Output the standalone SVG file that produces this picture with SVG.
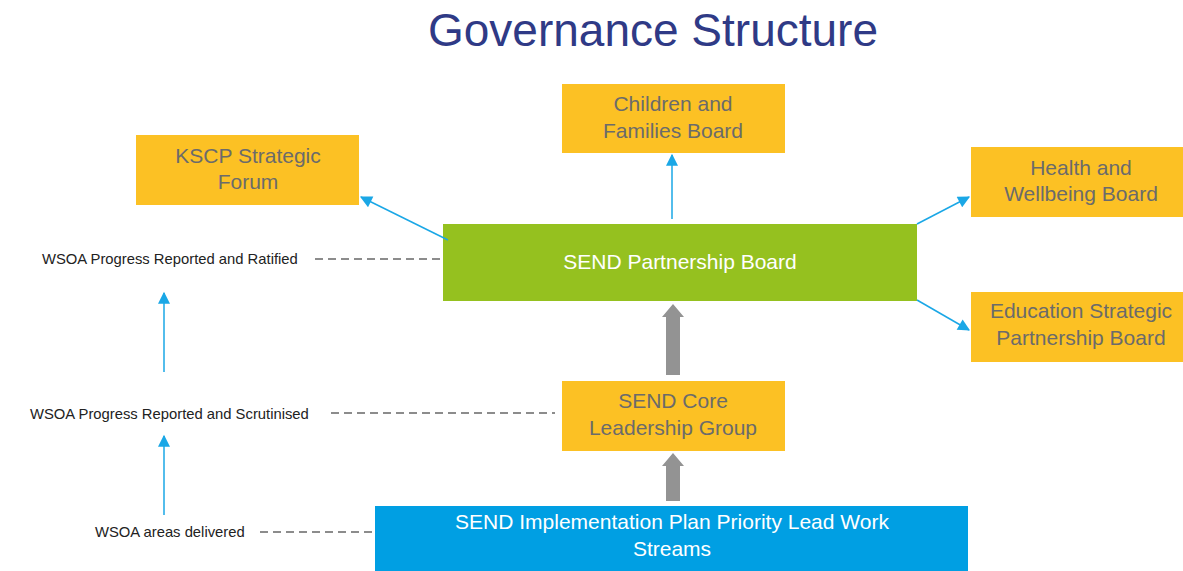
<svg xmlns="http://www.w3.org/2000/svg" width="1183" height="571" viewBox="0 0 1183 571">
<defs>
<style>
.title{font-family:"Liberation Sans",Arial,sans-serif;font-size:46px;fill:#2f3a86;text-anchor:middle}
.yb{fill:#fcc124}
.yt{font-family:"Liberation Sans",Arial,sans-serif;font-size:21px;fill:#6b6b6b;text-anchor:middle}
.wt{font-family:"Liberation Sans",Arial,sans-serif;font-size:21px;fill:#ffffff;text-anchor:middle}
.lbl{font-family:"Liberation Sans",Arial,sans-serif;font-size:14.8px;fill:#222222}
.blue{stroke:#1aa7e6;stroke-width:1.5;fill:none;marker-end:url(#ah)}
.dash{stroke:#8c8c8c;stroke-width:2;stroke-dasharray:8 5;fill:none}
.grey{fill:#939393}
</style>
<marker id="ah" viewBox="0 0 10 10" refX="9" refY="5" markerWidth="15" markerHeight="12" markerUnits="userSpaceOnUse" orient="auto">
<path d="M0,0 L10,5 L0,10 z" fill="#1aa7e6"/>
</marker>
</defs>
<rect width="1183" height="571" fill="#ffffff"/>
<text class="title" x="653" y="46">Governance Structure</text>

<g id="children-board"><rect class="yb" x="562" y="84" width="223" height="69"/><text class="yt" x="673" y="111">Children and</text><text class="yt" x="673" y="138">Families Board</text></g>
<g id="kscp"><rect class="yb" x="136" y="135" width="223" height="70"/><text class="yt" x="248" y="163">KSCP Strategic</text><text class="yt" x="248" y="189">Forum</text></g>
<g id="health"><rect class="yb" x="971" y="147" width="212" height="70"/><text class="yt" x="1081" y="175">Health and</text><text class="yt" x="1081" y="201">Wellbeing Board</text></g>
<g id="education"><rect class="yb" x="971" y="292" width="212" height="70"/><text class="yt" x="1081" y="318">Education Strategic</text><text class="yt" x="1081" y="345">Partnership Board</text></g>
<g id="send-partnership"><rect x="443" y="224" width="474" height="77" fill="#95c11f"/><text class="wt" x="680" y="269">SEND Partnership Board</text></g>
<g id="send-core"><rect class="yb" x="562" y="381" width="223" height="70"/><text class="yt" x="673" y="408">SEND Core</text><text class="yt" x="673" y="435">Leadership Group</text></g>
<g id="send-impl"><rect x="375" y="506" width="593" height="65" fill="#009fe3"/><text class="wt" x="672" y="529">SEND Implementation Plan Priority Lead Work</text><text class="wt" x="672" y="556">Streams</text></g>

<g id="lbl-ratified"><text class="lbl" x="42" y="264">WSOA Progress Reported and Ratified</text></g>
<g id="lbl-scrutinised"><text class="lbl" x="30" y="419">WSOA Progress Reported and Scrutinised</text></g>
<g id="lbl-delivered"><text class="lbl" x="95" y="537">WSOA areas delivered</text></g>

<g id="connectors">
<line class="blue" x1="448" y1="240" x2="361" y2="197"/>
<line class="blue" x1="672" y1="219" x2="672" y2="155"/>
<line class="blue" x1="917" y1="224" x2="969" y2="197"/>
<line class="blue" x1="917" y1="300" x2="969" y2="330"/>
<line class="blue" x1="164" y1="372" x2="164" y2="293"/>
<line class="blue" x1="164" y1="515" x2="164" y2="436"/>
<line class="dash" x1="315" y1="259" x2="440" y2="259"/>
<line class="dash" x1="331" y1="413" x2="555" y2="413"/>
<line class="dash" x1="260" y1="532" x2="372" y2="532"/>
<path class="grey" d="M666,375 L666,317 L662,317 L673,304 L684,317 L680,317 L680,375 z"/>
<path class="grey" d="M666,501 L666,466 L662,466 L673,453 L684,466 L680,466 L680,501 z"/>
</g>
</svg>
